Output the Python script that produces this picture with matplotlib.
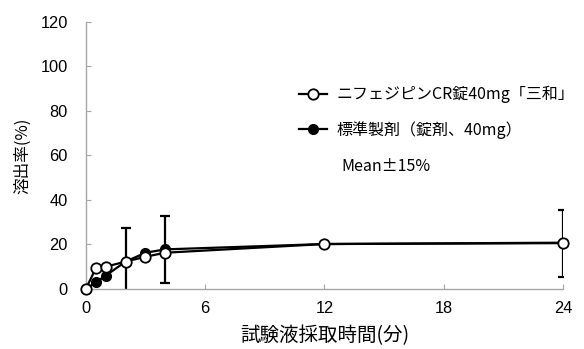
import matplotlib
matplotlib.use("Agg")
import matplotlib.pyplot as plt

plt.rcParams['font.family'] = ['Noto Sans CJK JP', 'DejaVu Sans']

# Sampling times and dissolution rates (%)
times = [0, 0.5, 1, 2, 3, 4, 12, 24]
test_vals = [0, 9.3, 10.0, 12.3, 14.5, 16.3, 20.2, 20.8]
ref_vals = [0, 3.0, 6.0, 12.3, 16.3, 17.8, 20.2, 20.6]

# Acceptance range (reference mean ±15%) at the judgement points
err_times = [2, 4, 24]
err_centers = [12.3, 17.8, 20.6]
err_half = 15

test_label = "ニフェジピンCR錠40mg「三和」"
ref_label = "標準製剤（錠剤、40mg）"
range_label = "Mean±15%"

x_ticks = [0, 6, 12, 18, 24]
y_ticks = [0, 20, 40, 60, 80, 100, 120]

fig = plt.figure(figsize=(5.84, 3.49), dpi=100)
ax = fig.add_axes([0.147, 0.172, 0.817, 0.765])

ax.errorbar(err_times, err_centers, yerr=err_half, fmt='none', ecolor='black',
            elinewidth=1.6, capsize=3.5, capthick=1.6, zorder=2)
l_ref, = ax.plot(times, ref_vals, '-o', color='black', lw=1.6, ms=7,
                 mfc='black', mec='black', label=ref_label, zorder=3,
                 clip_on=False)
l_test, = ax.plot(times, test_vals, '-o', color='black', lw=1.6, ms=7.5,
                  mfc='white', mec='black', mew=1.3, label=test_label, zorder=4,
                  clip_on=False)

ax.set_xlim(0, 24)
ax.set_ylim(0, 120)
ax.set_xticks(x_ticks)
ax.set_yticks(y_ticks)
ax.set_xticklabels([str(t) for t in x_ticks], fontfamily='Liberation Sans', fontsize=11.8)
ax.set_yticklabels([str(t) for t in y_ticks], fontfamily='Liberation Sans', fontsize=11.8)

for s in ['top', 'right']:
    ax.spines[s].set_visible(False)
for s in ['left', 'bottom']:
    ax.spines[s].set_color('#a6a6a6')
    ax.spines[s].set_linewidth(1.0)
ax.tick_params(direction='in', length=3.5, color='#a6a6a6')
ax.tick_params(axis='y', pad=13)
ax.tick_params(axis='x', pad=9)

ax.set_xlabel("試験液採取時間(分)", fontsize=14, labelpad=6)
ax.set_ylabel("溶出率(%)", fontsize=12, labelpad=6.5)

leg = ax.legend([l_test, l_ref], [test_label, ref_label], loc='upper left',
                bbox_to_anchor=(0.512, 0.754), bbox_transform=fig.transFigure,
                frameon=False, fontsize=11.5, handlelength=1.75,
                handletextpad=0.6, labelspacing=1.1, borderpad=0,
                borderaxespad=0)
fig.text(0.584, 0.522, range_label, fontsize=11.5, va='center', ha='left')

fig.savefig("out.png", dpi=100)
